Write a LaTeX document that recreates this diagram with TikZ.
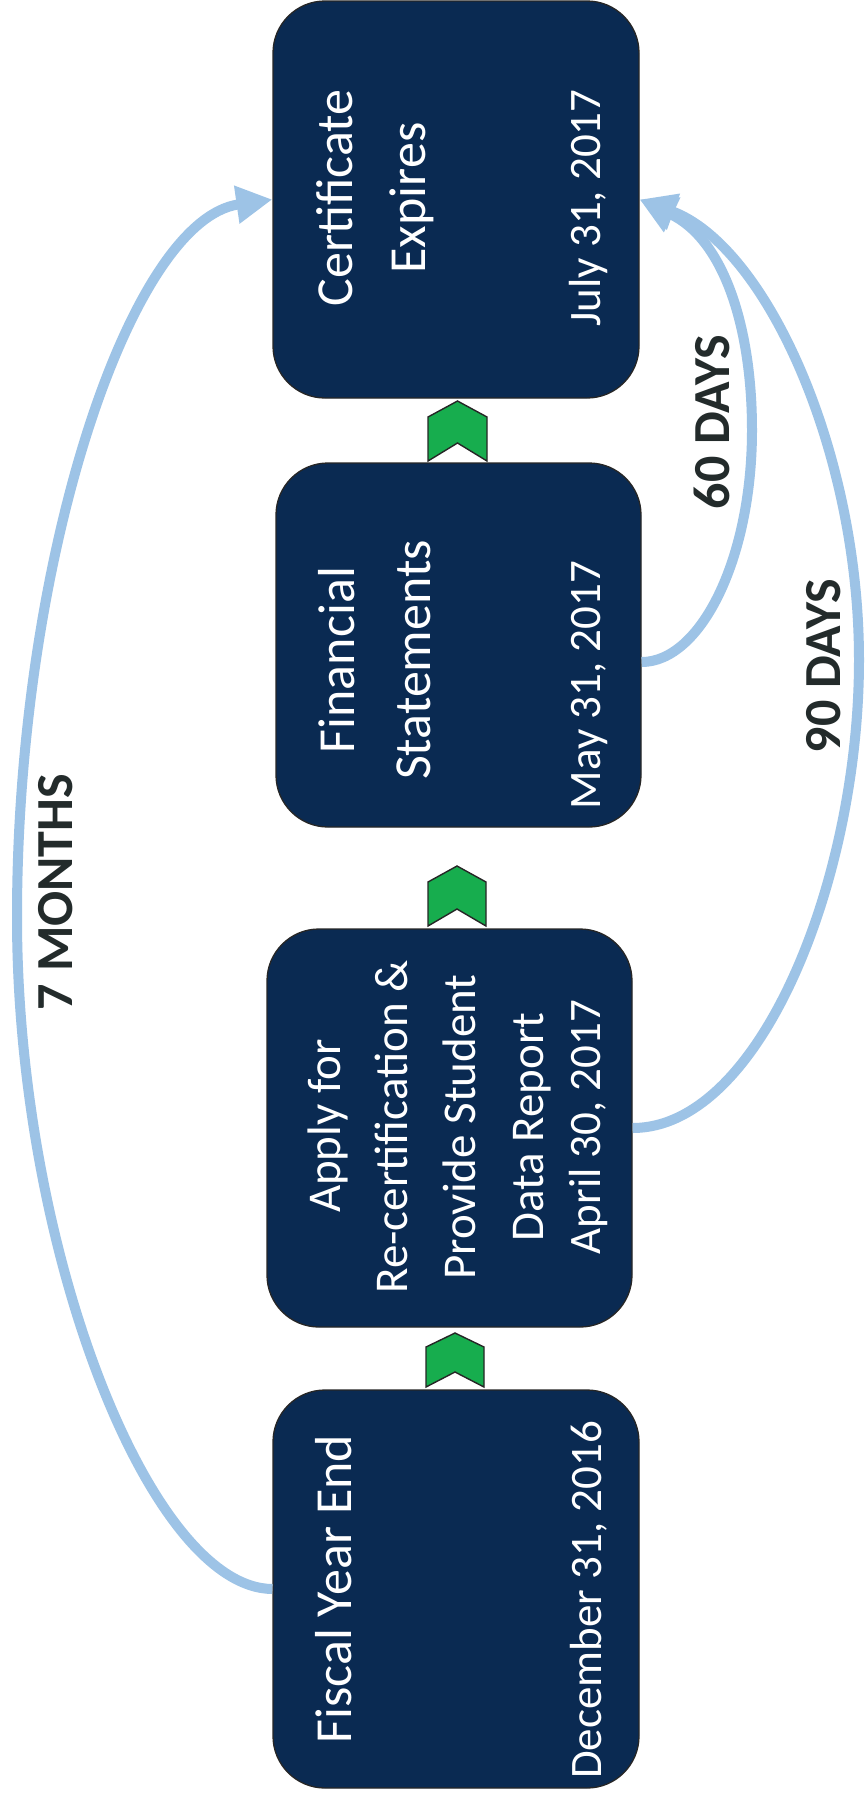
\documentclass[tikz,border=0pt]{standalone}
\usepackage{fontspec}
\setmainfont{Carlito}
\usetikzlibrary{arrows.meta,calc}
\definecolor{navy}{HTML}{0A2A52}
\definecolor{chevgreen}{HTML}{17AD4E}
\definecolor{arrblue}{HTML}{9DC3E6}
\definecolor{lbldark}{HTML}{232B2B}
\begin{document}
\begin{tikzpicture}[x=1pt,y=-1pt,
  box/.style={draw=black!85,line width=1.3pt,fill=navy,rounded corners=52pt,inner sep=0pt},
  ttl/.style={text=white,rotate=90,anchor=base,inner sep=0pt,font=\fontsize{52}{60}\selectfont},
  ttls/.style={text=white,rotate=90,anchor=base,inner sep=0pt,font=\fontsize{47}{56}\selectfont},
  datetxt/.style={text=white,rotate=90,anchor=base,inner sep=0pt,font=\fontsize{45}{54}\selectfont},
  lbl/.style={text=lbldark,rotate=90,anchor=base,inner sep=0pt,font=\fontsize{52}{60}\selectfont\bfseries},
  chevron/.style={fill=chevgreen,draw=black!85,line width=1.4pt,line join=miter},
  conn/.style={draw=arrblue,line width=10pt,-{Triangle[length=36pt,width=36pt]}}
]
\useasboundingbox (0,0) rectangle (865,1797);
\fill[white] (0,0) rectangle (865,1797);

% boxes
\node[box,minimum width=366pt,minimum height=397pt] (b1) at (456,199.5) {};
\node[box,minimum width=365pt,minimum height=364pt] (b2) at (458.5,645) {};
\node[box,minimum width=365pt,minimum height=398pt] (b3) at (449.5,1128) {};
\node[box,minimum width=366pt,minimum height=398pt] (b4) at (456,1589) {};

% box texts
\node[ttl] (t1a) at (352,198) {Certificate};
\node[ttl] (t1b) at (425,198) {Expires};
\node[datetxt] (d1) at (600,208) {July 31, 2017};

\node[ttl] (t2a) at (354,660) {Financial};
\node[ttl] (t2b) at (430,660) {Statements};
\node[datetxt] (d2) at (600,685) {May 31, 2017};

\node[ttls] (t3a) at (340,1126) {Apply for};
\node[ttls] (t3b) at (407,1127) {Re-certification \&};
\node[ttls] (t3c) at (475,1127) {Provide Student};
\node[ttls] (t3d) at (543,1127) {Data Report};
\node[datetxt] (d3) at (600,1127) {April 30, 2017};

\node[ttl] (t4a) at (351,1589) {Fiscal Year End};
\node[datetxt] (d4) at (601,1600) {December 31, 2016};

% chevrons
\filldraw[chevron] (457.5,401) -- (487,417) -- (487,461) -- (457.5,443) -- (428,461) -- (428,417) -- cycle;
\filldraw[chevron] (457,866) -- (486,882) -- (486,926) -- (457,909) -- (428,926) -- (428,882) -- cycle;
\filldraw[chevron] (455,1333) -- (484,1347) -- (484,1387) -- (455,1372) -- (426,1387) -- (426,1347) -- cycle;

% connectors
\coordinate (m7) at (17,917);
\coordinate (m60) at (752,430);
\coordinate (m90) at (859,660);
\draw[conn] (b4.west) .. controls (150,1588) and (17,1250) .. (m7) .. controls (17,560) and (130,220) .. (b1.west);
\draw[conn] ($(b2.east)+(0,17)$) .. controls (700,662) and (752,560) .. (m60) .. controls (752,330) and (725,240) .. (b1.east);
\draw[conn] (b3.east) .. controls (760,1128) and (859,880) .. (m90) .. controls (859,450) and (765,245) .. (b1.east);

% labels
\node[lbl] (l7) at (72,892) {7 MONTHS};
\node[lbl] (l60) at (729,422) {60 DAYS};
\node[lbl] (l90) at (840,666) {90 DAYS};
\end{tikzpicture}
\end{document}
